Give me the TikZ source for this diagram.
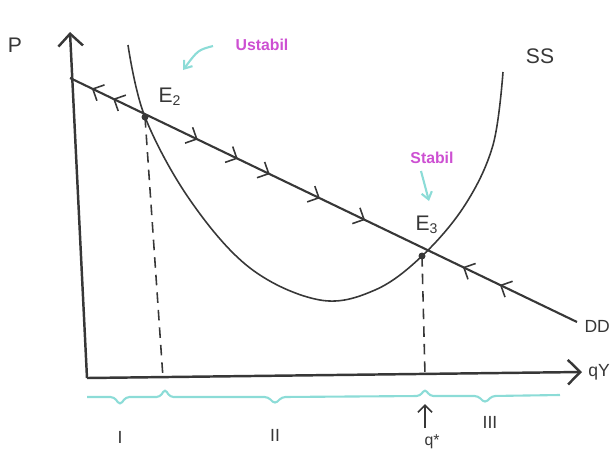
\documentclass[tikz,border=0pt]{standalone}
\usepackage{fontspec}
\setmainfont{Liberation Sans}
\usetikzlibrary{arrows.meta,decorations.markings}
\definecolor{magtxt}{RGB}{205,80,210}
\definecolor{cyanln}{RGB}{140,220,215}
\definecolor{inkc}{RGB}{55,55,55}
\tikzset{
  axisline/.style={draw=inkc,line width=1.4pt},
  curveline/.style={draw=inkc,line width=0.9pt},
  ddline/.style={draw=inkc,line width=1.2pt},
  guide/.style={draw=inkc,line width=0.9pt,dash pattern=on 6pt off 4pt},
  lbl/.style={text=inkc,font=\large},
  note/.style={text=magtxt,font=\small\bfseries},
  pointer/.style={draw=cyanln,line width=1.2pt,-{Straight Barb[length=4pt,width=6pt]}},
  brace/.style={draw=cyanln,line width=1.2pt,rounded corners=2pt},
  roman/.style={text=inkc,font=\normalsize\rmfamily},
  chev/.tip={Straight Barb[length=5pt,width=10pt,line width=0.9pt]}
}
\begin{document}
\begin{tikzpicture}[x=0.02cm,y=-0.02cm]
\useasboundingbox (0,0) rectangle (613,451);
% axes
\coordinate (O) at (87,378);
\coordinate (ytop) at (70,32);
\coordinate (xend) at (582,372);
\draw[axisline,-{Straight Barb[length=7pt,width=14pt]}] (O) -- (ytop);
\draw[axisline,-{Straight Barb[length=7pt,width=14pt]}] (O) -- (xend);
\node[lbl] (P) at (15,45) {P};
\node[text=inkc,anchor=east,inner sep=1pt] (qY) at (612,372) {qY};
% equilibria
\coordinate (E2) at (145,117);
\coordinate (E3) at (422,256);
% SS curve
\draw[curveline] plot[smooth,tension=0.6] coordinates{(128,45) (145,117) (190,200) (250,268) (320,300) (375,290) (422,256) (465,205) (493,145) (503,72)};
\node[lbl] (SS) at (540,56) {SS};
% DD line
\coordinate (DDs) at (70,78);
\coordinate (DDe) at (577,322);
\draw[ddline,postaction={decorate,decoration={markings,
  mark=at position 0.043 with {\arrowreversed{chev}},
  mark=at position 0.085 with {\arrowreversed{chev}},
  mark=at position 0.252 with {\arrow{chev}},
  mark=at position 0.331 with {\arrow{chev}},
  mark=at position 0.394 with {\arrow{chev}},
  mark=at position 0.493 with {\arrow{chev}},
  mark=at position 0.582 with {\arrow{chev}},
  mark=at position 0.775 with {\arrowreversed{chev}},
  mark=at position 0.848 with {\arrowreversed{chev}}}}] (DDs) -- (DDe);
\node[text=inkc,anchor=east,inner sep=1pt] (DD) at (612,326) {DD};
\fill[inkc] (E2) circle (3.5);
\fill[inkc] (E3) circle (3.5);
\node[lbl] (E2l) at (170,97) {E\textsubscript{2}};
\node[lbl] (E3l) at (427,225) {E\textsubscript{3}};
% dashed guides
\coordinate (q2) at (163,378);
\coordinate (q3) at (425,375);
\draw[guide] (E2) -- (q2);
\draw[guide] (E3) -- (q3);
% notes
\node[note] (Us) at (262,45) {Ustabil};
\coordinate (usA) at (213,46);
\coordinate (usB) at (183,70);
\draw[pointer] (usA) .. controls (198,50) .. (usB);
\node[note] (St) at (432,158) {Stabil};
\coordinate (stA) at (421,171);
\coordinate (stB) at (429,201);
\draw[pointer] (stA) -- (stB);
% brace line
\draw[brace] (87,397) -- (114,397) -- (120,405) -- (126,397) -- (160,397) -- (165,389) -- (170,397)
  -- (268,397) -- (275,404) -- (282,397) -- (420,396) -- (425,389) -- (430,396)
  -- (478,396) -- (485,403) -- (492,396) -- (560,395);
\node[roman] (r1) at (120,437) {I};
\node[roman] (r2) at (275,435) {II};
\node[roman] (r3) at (490,422) {III};
\coordinate (arA) at (425,428);
\coordinate (arB) at (425,404);
\draw[inkc,line width=1pt,-{Straight Barb[length=4pt,width=8pt]}] (arA) -- (arB);
\node[text=inkc,font=\small,inner sep=1pt] (qs) at (432,442) {q*};
\end{tikzpicture}
\end{document}
